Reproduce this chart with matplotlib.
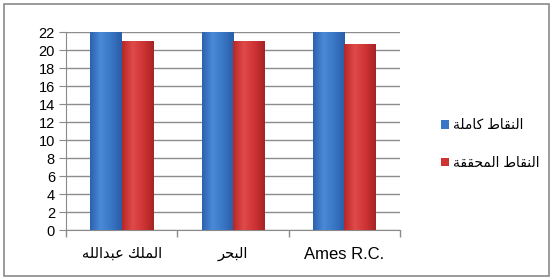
import matplotlib
matplotlib.use('Agg')
import matplotlib.pyplot as plt
import numpy as np
from matplotlib.patches import Rectangle

# chart values
categories = ['الملك عبدالله', 'البحر', 'Ames R.C.']
full_points = [22, 22, 22]
achieved_points = [21.0, 21.0, 20.7]
legend_labels = ['النقاط كاملة', 'النقاط المحققة']
y_ticks = list(range(0, 23, 2))

# matplotlib has no arabic shaping, so pick presentation forms by hand
FORMS = {
    'ا': ('\uFE8D', '\uFE8E', None, None),
    'ب': ('\uFE8F', '\uFE90', '\uFE91', '\uFE92'),
    'ة': ('\uFE93', '\uFE94', None, None),
    'ح': ('\uFEA1', '\uFEA2', '\uFEA3', '\uFEA4'),
    'د': ('\uFEA9', '\uFEAA', None, None),
    'ر': ('\uFEAD', '\uFEAE', None, None),
    'ط': ('\uFEC1', '\uFEC2', '\uFEC3', '\uFEC4'),
    'ع': ('\uFEC9', '\uFECA', '\uFECB', '\uFECC'),
    'ق': ('\uFED5', '\uFED6', '\uFED7', '\uFED8'),
    'ك': ('\uFED9', '\uFEDA', '\uFEDB', '\uFEDC'),
    'ل': ('\uFEDD', '\uFEDE', '\uFEDF', '\uFEE0'),
    'م': ('\uFEE1', '\uFEE2', '\uFEE3', '\uFEE4'),
    'ن': ('\uFEE5', '\uFEE6', '\uFEE7', '\uFEE8'),
    'ه': ('\uFEE9', '\uFEEA', '\uFEEB', '\uFEEC'),
}


def is_arabic(s):
    return any(c in FORMS for c in s)


def shape(s):
    if not is_arabic(s):
        return s
    out = []
    for i, c in enumerate(s):
        if c not in FORMS:
            out.append(c)
            continue
        prev = s[i - 1] if i > 0 else ''
        nxt = s[i + 1] if i + 1 < len(s) else ''
        jp = prev in FORMS and FORMS[prev][2] is not None
        jn = nxt in FORMS and FORMS[c][2] is not None
        iso, fin, ini, med = FORMS[c]
        if jp and jn:
            out.append(med)
        elif jp:
            out.append(fin)
        elif jn:
            out.append(ini)
        else:
            out.append(iso)
    return ''.join(out)[::-1]


plt.rcParams['font.family'] = ['Liberation Sans', 'DejaVu Sans']

fig = plt.figure(figsize=(5.53, 2.79), dpi=100)
fig.patches.append(Rectangle((4 / 553, 3 / 279), 545 / 553, 272 / 279,
                             transform=fig.transFigure, fill=False,
                             edgecolor='#8a8a8a', linewidth=1.2))

ax = fig.add_axes([66 / 553, 1 - 230 / 279, 334 / 553, 198 / 279])
x = np.arange(len(categories))
w = 0.28
blue = ax.bar(x - w / 2, full_points, w, color='#3a76c6', zorder=3,
              label=shape(legend_labels[0]))
red = ax.bar(x + w / 2, achieved_points, w, color='#cf3434', zorder=3,
             label=shape(legend_labels[1]))

# horizontal shading across each bar
for bars, cmap in ((blue, ['#2c62b0', '#4a8ad6', '#3a76c6', '#2a5ea8']),
                   (red, ['#b82828', '#e04a4a', '#cf3434', '#a82424'])):
    cm = matplotlib.colors.LinearSegmentedColormap.from_list('g', cmap)
    for p in bars:
        x0, y0 = p.get_x(), p.get_y()
        im = ax.imshow(np.linspace(0, 1, 50)[None, :], cmap=cm, aspect='auto',
                       extent=[x0, x0 + p.get_width(), y0, y0 + p.get_height()],
                       zorder=3.5)
        im.set_clip_path(p)

ax.set_xlim(-0.5, len(categories) - 0.5)
ax.set_ylim(0, 22)
ax.set_yticks(y_ticks)
ax.set_xticks(x)
ax.set_xticklabels([shape(c) for c in categories], fontsize=12)
for lbl, c in zip(ax.get_xticklabels(), categories):
    if is_arabic(c):
        lbl.set_fontsize(10.5)
ax.set_xticks(np.arange(-0.5, len(categories)), minor=True)
ax.tick_params(axis='x', which='major', length=0, pad=12)
ax.tick_params(axis='x', which='minor', length=5, color='#8a8a8a', width=1)
ax.tick_params(axis='y', labelsize=10.5, length=5, color='#8a8a8a', pad=3)
ax.grid(axis='y', color='#8c8c8c', linewidth=1, zorder=0)
for s in ('top', 'right'):
    ax.spines[s].set_visible(False)
for s in ('left', 'bottom'):
    ax.spines[s].set_color('#8a8a8a')
ax.set_axisbelow(True)

leg = fig.legend(loc='center left', bbox_to_anchor=(428 / 553, 1 - 144 / 279),
                 frameon=False, fontsize=10, handlelength=0.6, handleheight=0.6,
                 handletextpad=0.3, labelspacing=1.7)

fig.savefig('out.png', dpi=100)
